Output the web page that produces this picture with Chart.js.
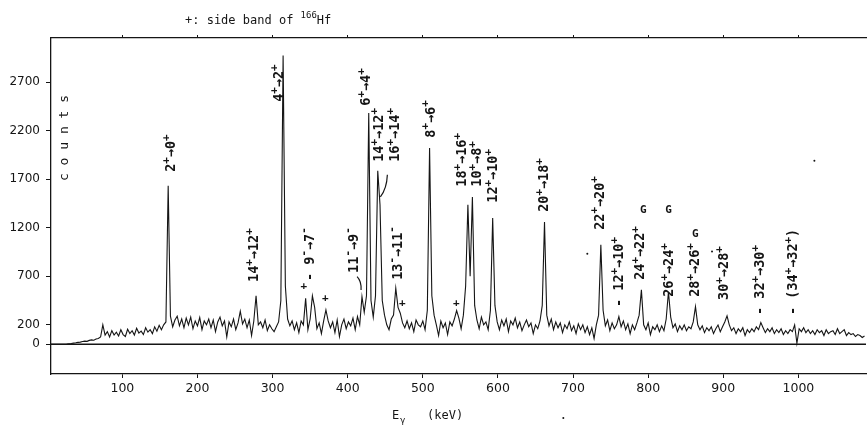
<!DOCTYPE html>
<html><head><meta charset="utf-8">
<script src="https://cdn.jsdelivr.net/npm/chart.js@4.4.1/dist/chart.umd.min.js"></script>
<style>html,body{margin:0;padding:0;background:#fff;} canvas{display:block;}</style>
</head><body>
<canvas id="c" width="868" height="425"></canvas>
<script>
// ---- spectrum: channel calibration (keV) and counts per channel ----
const channelStartKeV = 5;
const channelWidthKeV = 3;
const counts = [
  0,0,0,0,0,0,0,2,5,8,                 // 5..32
  12,15,20,22,28,32,30,40,45,42,       // 35..62
  55,60,75,200,95,130,75,140,95,125,   // 65..92
  85,150,100,80,155,110,140,95,165,115,// 95..122
  135,100,170,125,150,110,180,135,195,150, // 125..152
  200,230,1632,290,180,250,290,190,260,170, // 155..182
  270,200,280,160,240,190,275,150,240,200,  // 185..212
  260,170,250,130,230,280,190,240,75,230,   // 215..242
  180,260,150,220,340,210,260,170,250,90,   // 245..272
  240,500,200,230,170,250,140,200,160,130,  // 275..302
  180,230,450,2972,600,260,190,240,150,220, // 305..332
  120,240,200,474,150,260,498,380,160,220,  // 335..362
  110,240,354,240,170,230,120,250,80,200,   // 365..392
  260,160,230,190,270,150,285,200,491,330,  // 395..422
  500,2381,450,280,500,1787,1436,450,300,200, // 425..452
  150,260,300,577,380,320,220,170,240,160,  // 455..482
  220,130,250,200,180,240,150,350,2021,500, // 485..512
  300,200,90,240,170,220,100,230,190,260,   // 515..542
  347,270,160,300,600,1436,700,1515,400,250,// 545..572
  160,280,200,230,150,350,1299,400,230,150, // 575..602
  250,190,260,130,240,200,270,170,230,140,  // 605..632
  200,250,180,220,110,200,160,240,400,1258, // 635..662
  300,190,260,150,230,170,220,120,200,160,  // 665..692
  230,140,190,110,210,150,200,120,180,100,  // 695..722
  170,60,200,300,1024,350,190,250,140,220,  // 725..752
  160,200,285,180,240,150,210,110,200,150,  // 755..782
  220,300,560,200,150,220,100,180,150,200,  // 785..812
  130,190,140,260,540,280,170,210,130,190,  // 815..842
  150,200,140,180,160,230,388,200,150,190,  // 845..872
  120,170,140,180,110,160,199,130,180,230,  // 875..902
  292,200,140,170,110,160,130,170,90,150,   // 905..932
  120,160,130,180,150,223,170,120,160,130,  // 935..962
  170,110,150,120,160,100,140,110,150,130,  // 965..992
  199,10,160,130,170,120,150,110,140,100,   // 995..1022
  150,120,140,90,150,110,130,140,100,160,   // 1025..1052
  110,130,150,90,120,100,110,80,100,90,     // 1055..1082
  70,85                                      // 1085..1088
];

const xTickValues = [100,200,300,400,500,600,700,800,900,1000];
const yTickValues = [0,200,700,1200,1700,2200,2700];

// transition labels (rotated), anchored at energy (keV) / counts of their lower end
const labelTexts = ["2^+→0^+","4^+→2^+","14^+→12^+","- 9^-→7^-","11^-→9^-","6^+→4^+",
  "14^+→12^+","16^+→14^+","13^-→11^-","8^+→6^+","18^+→16^+","10^+→8^+","12^+→10^+",
  "20^+→18^+","22^+→20^+","- 12^+→10^+","24^+→22^+","26^+→24^+","28^+→26^+",
  "30^+→28^+","- 32^+→30^+","- (34^+→32^+)"];
const labelEnergies = [162.6,306.4,273.1,347.6,406.2,422.2,439.5,460.8,464.7,508.7,550.0,
  570.0,591.3,659.2,733.7,759.0,787.0,825.6,860.2,898.8,946.8,990.7];
const labelCounts = [1776,2496,642,652,735,2456,1879,1879,663,2127,1622,1622,1457,1364,
  1178,384,663,488,488,457,302,302];

// upright markers: "+" = side band lines, "G" marks
const markerTexts = ["+","+","+","+","G","G","G"];
const markerEnergies = [341.4,370.2,472.8,544.6,793.6,827.0,862.8];
const markerCounts = [594,477,426,426,1385,1385,1137];

// stray dots in the figure
const dotEnergies = [719.0,885.0,1021.3];
const dotCounts = [931,955,1889];

// connector curves: [fromE, fromC, ctrlE, ctrlC, toE, toC]
const connectors = [
  [412.5,697, 418.5,650, 417.8,559],
  [452.8,1745, 452.0,1600, 443.5,1518]
];

const spectrum = counts.map((c,i)=>({x: channelStartKeV + i*channelWidthKeV, y: c}));
const zeroLine = [{x:5,y:0},{x:1090,y:0}];

const INK = '#151515';
const MONO = '"DejaVu Sans Mono", "Liberation Mono", monospace';

function drawSup(ctx, text, size, weight){
  let x = 0;
  for (let i=0;i<text.length;i++){
    let ch = text[i], sup = false;
    if (ch === '^'){ sup = true; ch = text[++i]; }
    const fs = sup ? size*0.8 : size;
    ctx.font = `${weight} ${fs}px ${MONO}`;
    ctx.fillText(ch, x, sup ? -size*0.42 : 0);
    x += ctx.measureText(ch).width;
  }
  return x;
}

const annotate = {
  id:'annotate',
  afterDatasetsDraw(chart){
    const ctx = chart.ctx, xs = chart.scales.x, ys = chart.scales.y;
    ctx.save();
    ctx.fillStyle = INK; ctx.strokeStyle = INK;
    // rotated transition labels
    labelTexts.forEach((t,i)=>{
      const px = xs.getPixelForValue(labelEnergies[i]);
      const py = ys.getPixelForValue(labelCounts[i]);
      ctx.save();
      ctx.translate(px+2, py);
      ctx.rotate(-Math.PI/2);
      ctx.textAlign='left'; ctx.textBaseline='middle';
      drawSup(ctx, t, 13.5, 'bold');
      ctx.restore();
    });
    // upright markers
    ctx.textAlign='center'; ctx.textBaseline='middle';
    markerTexts.forEach((t,i)=>{
      ctx.font = `bold 11px ${MONO}`;
      ctx.fillText(t, xs.getPixelForValue(markerEnergies[i]), ys.getPixelForValue(markerCounts[i]));
    });
    dotEnergies.forEach((e,i)=>{
      ctx.beginPath();
      ctx.arc(xs.getPixelForValue(e), ys.getPixelForValue(dotCounts[i]), 1, 0, Math.PI*2);
      ctx.fill();
    });
    ctx.lineWidth = 1.2;
    connectors.forEach(c=>{
      ctx.beginPath();
      ctx.moveTo(xs.getPixelForValue(c[0]), ys.getPixelForValue(c[1]));
      ctx.quadraticCurveTo(xs.getPixelForValue(c[2]), ys.getPixelForValue(c[3]),
                           xs.getPixelForValue(c[4]), ys.getPixelForValue(c[5]));
      ctx.stroke();
    });
    // titles
    ctx.textAlign='left'; ctx.textBaseline='alphabetic';
    ctx.font = `12px ${MONO}`;
    let tx = 185;
    ctx.fillText('+: side band of ', tx, 24);
    tx += ctx.measureText('+: side band of ').width;
    ctx.font = `9px ${MONO}`;
    ctx.fillText('166', tx, 18);
    tx += ctx.measureText('166').width;
    ctx.font = `12px ${MONO}`;
    ctx.fillText('Hf', tx, 24);
    // x axis title
    ctx.font = `12px ${MONO}`;
    ctx.fillText('E', 392, 419);
    ctx.font = `9px ${MONO}`;
    ctx.fillText('γ', 400, 423);
    ctx.font = `12px ${MONO}`;
    ctx.fillText('(keV)', 427, 419);
    // y axis title
    ctx.save();
    ctx.translate(65, 138);
    ctx.rotate(-Math.PI/2);
    ctx.textAlign='center'; ctx.textBaseline='middle';
    ctx.font = `13px ${MONO}`;
    ctx.fillText('c o u n t s', 0, 0);
    ctx.restore();
    // stray dot below the axis
    ctx.beginPath();
    ctx.arc(xs.getPixelForValue(687), chart.chartArea.bottom + 44, 1, 0, Math.PI*2);
    ctx.fill();
    ctx.restore();
  }
};

new Chart(document.getElementById('c'), {
  type:'line',
  data:{ datasets:[
    {data: spectrum, borderColor: INK, borderWidth: 1.1, pointRadius: 0, tension: 0, fill:false, order:1},
    {data: zeroLine, borderColor: INK, borderWidth: 1.4, pointRadius: 0, fill:false, order:2}
  ]},
  options:{
    responsive:false, animation:false, devicePixelRatio:1,
    layout:{padding:{left:0,right:2,top:38,bottom:0}},
    plugins:{legend:{display:false}, tooltip:{enabled:false}, title:{display:false}},
    scales:{
      x:{ type:'linear', position:'bottom', min:5, max:1090,
        afterFit(s){ s.height = 51; },
        afterBuildTicks(s){ s.ticks = xTickValues.map(v=>({value:v})); },
        ticks:{ color:INK, font:{family:'"DejaVu Sans"', size:12.5}, padding:3, maxRotation:0, autoSkip:false,
          callback:(v)=>String(v) },
        grid:{ display:true, drawOnChartArea:false, drawTicks:true, tickLength:4, color:INK, lineWidth:1 },
        border:{ display:true, color:INK, width:1.3 }
      },
      xTop:{ type:'linear', position:'top', min:5, max:1090,
        afterFit(s){ s.height = 0; },
        afterBuildTicks(s){ s.ticks = xTickValues.map(v=>({value:v})); },
        ticks:{ display:false },
        grid:{ display:true, drawOnChartArea:false, drawTicks:true, tickLength:3, color:INK, lineWidth:1 },
        border:{ display:true, color:INK, width:1.3 }
      },
      y:{ type:'linear', position:'left', min:-306, max:3153,
        afterFit(s){ s.width = 51; },
        afterBuildTicks(s){ s.ticks = yTickValues.map(v=>({value:v})); },
        ticks:{ color:INK, font:{family:'"DejaVu Sans"', size:12}, padding:6, callback:(v)=>String(v) },
        grid:{ display:true, drawOnChartArea:false, drawTicks:true, tickLength:5, color:INK, lineWidth:1 },
        border:{ display:true, color:INK, width:1.3 }
      }
    }
  },
  plugins:[annotate]
});
</script>
</body></html>
